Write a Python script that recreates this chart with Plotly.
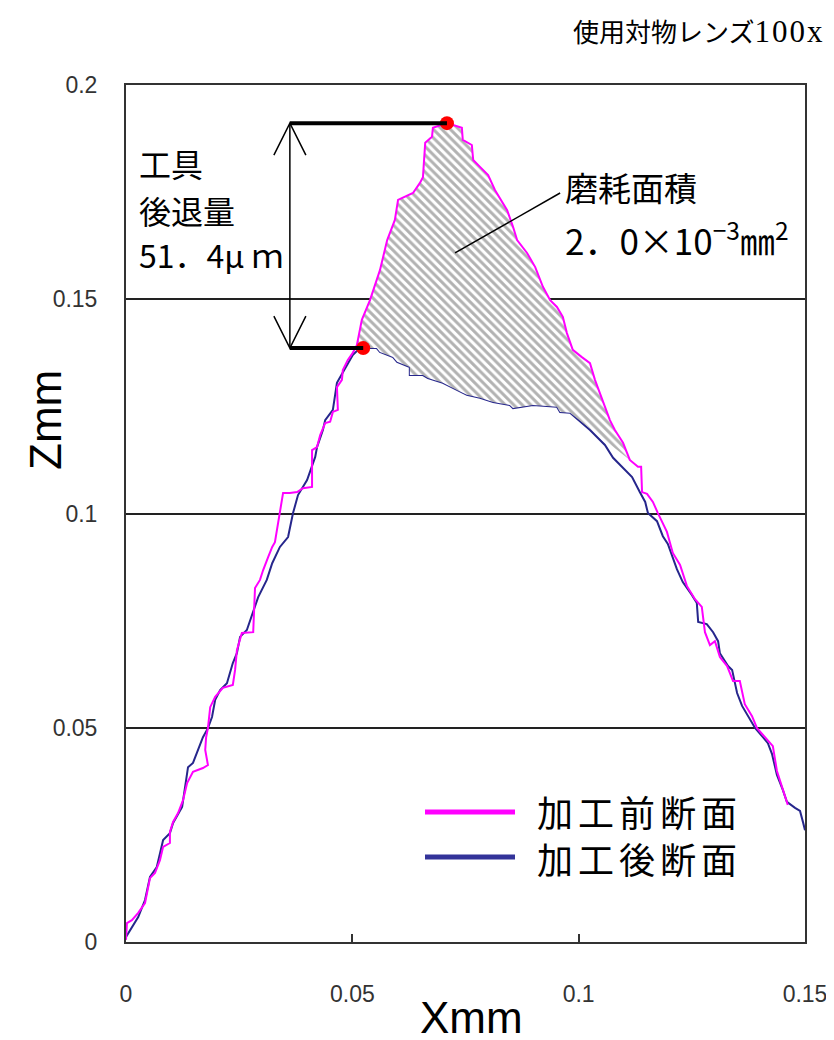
import numpy as np
import plotly.graph_objects as go

# ---------------- data (mm) ----------------
x_before = [0.0000, 0.0002, 0.0013, 0.0027, 0.0042, 0.0053, 0.0064, 0.0075, 0.0082, 0.0097,
            0.0097, 0.0104, 0.0115, 0.0126, 0.0135, 0.0148, 0.0170, 0.0181, 0.0175, 0.0177,
            0.0181, 0.0186, 0.0197, 0.0214, 0.0236, 0.0241, 0.0245, 0.0256, 0.0281, 0.0285,
            0.0296, 0.0303, 0.0314, 0.0323, 0.0329, 0.0340, 0.0345, 0.0347, 0.0362, 0.0378,
            0.0391, 0.0411, 0.0411, 0.0422, 0.0429, 0.0440, 0.0451, 0.0457, 0.0468, 0.0466,
            0.0477, 0.0479, 0.0490, 0.0501, 0.0510, 0.0521, 0.0539, 0.0561, 0.0577, 0.0594,
            0.0601, 0.0634, 0.0649, 0.0656, 0.0661, 0.0676, 0.0678, 0.0709, 0.0742, 0.0744,
            0.0764, 0.0767, 0.0782, 0.0800, 0.0815, 0.0842, 0.0855, 0.0864, 0.0886, 0.0904,
            0.0921, 0.0937, 0.0952, 0.0965, 0.0974, 0.0987, 0.1007, 0.1025, 0.1036, 0.1047,
            0.1058, 0.1069, 0.1080, 0.1098, 0.1113, 0.1131, 0.1138, 0.1140, 0.1151, 0.1164,
            0.1175, 0.1195, 0.1208, 0.1224, 0.1239, 0.1257, 0.1272, 0.1279, 0.1290, 0.1301,
            0.1312, 0.1328, 0.1341, 0.1356, 0.1367, 0.1383, 0.1394, 0.1416, 0.1429, 0.1438,
            0.1451, 0.1462]
z_before = [0.0005, 0.0044, 0.0051, 0.0068, 0.0091, 0.0149, 0.0161, 0.0191, 0.0222, 0.0231,
            0.0257, 0.0280, 0.0301, 0.0331, 0.0371, 0.0397, 0.0406, 0.0413, 0.0448, 0.0478,
            0.0499, 0.0548, 0.0572, 0.0593, 0.0600, 0.0635, 0.0681, 0.0721, 0.0723, 0.0826,
            0.0845, 0.0868, 0.0898, 0.0922, 0.0933, 0.1001, 0.1039, 0.1048, 0.1048, 0.1050,
            0.1059, 0.1062, 0.1148, 0.1155, 0.1183, 0.1211, 0.1214, 0.1237, 0.1242, 0.1295,
            0.1312, 0.1335, 0.1358, 0.1375, 0.1393, 0.1452, 0.1498, 0.1568, 0.1638, 0.1685,
            0.1732, 0.1748, 0.1771, 0.1785, 0.1865, 0.1879, 0.1900, 0.1911, 0.1900, 0.1872,
            0.1860, 0.1825, 0.1809, 0.1790, 0.1755, 0.1708, 0.1669, 0.1638, 0.1608, 0.1575,
            0.1529, 0.1498, 0.1482, 0.1459, 0.1421, 0.1382, 0.1365, 0.1351, 0.1312, 0.1281,
            0.1249, 0.1218, 0.1195, 0.1165, 0.1125, 0.1109, 0.1109, 0.1050, 0.1046, 0.1027,
            0.1001, 0.0957, 0.0908, 0.0880, 0.0831, 0.0800, 0.0782, 0.0723, 0.0693, 0.0702,
            0.0665, 0.0644, 0.0609, 0.0609, 0.0555, 0.0527, 0.0499, 0.0474, 0.0457, 0.0399,
            0.0359, 0.0320]

x_after = [0.0000, 0.0013, 0.0027, 0.0042, 0.0053, 0.0068, 0.0082, 0.0097, 0.0104, 0.0124,
           0.0137, 0.0148, 0.0170, 0.0181, 0.0190, 0.0197, 0.0208, 0.0223, 0.0230, 0.0236,
           0.0245, 0.0252, 0.0267, 0.0281, 0.0292, 0.0311, 0.0323, 0.0340, 0.0358, 0.0369,
           0.0380, 0.0400, 0.0406, 0.0418, 0.0422, 0.0435, 0.0440, 0.0457, 0.0466, 0.0479,
           0.0495, 0.0501, 0.0510, 0.0524, 0.0554, 0.0561, 0.0590, 0.0599, 0.0627, 0.0627,
           0.0656, 0.0667, 0.0700, 0.0731, 0.0753, 0.0782, 0.0811, 0.0848, 0.0855, 0.0899,
           0.0952, 0.0959, 0.0981, 0.1025, 0.1058, 0.1076, 0.1107, 0.1118, 0.1135, 0.1147,
           0.1153, 0.1173, 0.1186, 0.1197, 0.1217, 0.1230, 0.1250, 0.1261, 0.1264, 0.1283,
           0.1297, 0.1308, 0.1312, 0.1330, 0.1339, 0.1345, 0.1350, 0.1361, 0.1374, 0.1390,
           0.1407, 0.1418, 0.1427, 0.1438, 0.1451, 0.1460, 0.1478, 0.1489, 0.1496, 0.1500]
z_after = [0.0012, 0.0035, 0.0058, 0.0098, 0.0152, 0.0175, 0.0238, 0.0254, 0.0278, 0.0315,
           0.0408, 0.0418, 0.0478, 0.0499, 0.0525, 0.0565, 0.0588, 0.0604, 0.0630, 0.0651,
           0.0674, 0.0712, 0.0728, 0.0770, 0.0805, 0.0845, 0.0884, 0.0922, 0.0945, 0.1001,
           0.1043, 0.1078, 0.1095, 0.1132, 0.1155, 0.1195, 0.1218, 0.1242, 0.1305, 0.1328,
           0.1358, 0.1370, 0.1379, 0.1386, 0.1386, 0.1377, 0.1365, 0.1354, 0.1342, 0.1323,
           0.1323, 0.1316, 0.1305, 0.1288, 0.1277, 0.1270, 0.1260, 0.1253, 0.1246, 0.1253,
           0.1249, 0.1237, 0.1235, 0.1195, 0.1160, 0.1130, 0.1095, 0.1085, 0.1050, 0.1027,
           0.1001, 0.0982, 0.0947, 0.0929, 0.0870, 0.0840, 0.0810, 0.0791, 0.0747, 0.0742,
           0.0723, 0.0702, 0.0674, 0.0644, 0.0635, 0.0609, 0.0581, 0.0551, 0.0527, 0.0499,
           0.0478, 0.0464, 0.0439, 0.0390, 0.0355, 0.0327, 0.0313, 0.0306, 0.0278, 0.0261]

series_names = ["加工前断面", "加工後断面"]
x_tickvals = [0, 0.05, 0.1, 0.15]
x_ticktext = ["0", "0.05", "0.1", "0.15"]
z_tickvals = [0, 0.05, 0.1, 0.15, 0.2]
z_ticktext = ["0", "0.05", "0.1", "0.15", "0.2"]

# wear region bounds (mm)
hatch_x_start = 0.051
hatch_x_end_top = 0.1113
hatch_x_end_bottom = 0.0981

retreat_label = ["工具", "後退量", "51．4μ ｍ"]
wear_label = ["磨耗面積", "2．0×10<sup>−3</sup>㎜<sup>2</sup>"]
lens_label = ("使用対物レンズ<span style=\"font-family:'Liberation Serif';font-size:31px;"
              "letter-spacing:2px\">100x</span>")

MAGENTA = "#FF00FF"
NAVY = "#26268C"
CJK = "Noto Sans CJK JP"

xb, zb = np.array(x_before), np.array(z_before)
xa, za = np.array(x_after), np.array(z_after)

mt = (xb >= hatch_x_start) & (xb <= hatch_x_end_top)
ma = (xa >= hatch_x_start) & (xa <= hatch_x_end_bottom)
hx = np.concatenate([xb[mt], xa[ma][::-1]])
hz = np.concatenate([zb[mt], za[ma][::-1]])

ib = int(np.argmax(zb))
ia = int(np.argmax(za))
top_pt = (xb[ib], zb[ib])
bot_pt = (xa[ia], za[ia])
arrow_x = 0.0362

fig = go.Figure()
fig.add_trace(go.Scatter(x=x_after, y=z_after, mode="lines", name=series_names[1],
                         line=dict(color=NAVY, width=2), showlegend=False))
fig.add_trace(go.Scatter(x=hx, y=hz, mode="none", fill="toself", showlegend=False,
                         fillcolor="white",
                         fillpattern=dict(shape="\\", fgcolor="#666666", bgcolor="white",
                                          size=6, solidity=0.5)))
fig.add_trace(go.Scatter(x=x_before, y=z_before, mode="lines", name=series_names[0],
                         line=dict(color=MAGENTA, width=2), showlegend=False))

shapes = []
shapes.append(dict(type="line", xref="x", yref="y", x0=arrow_x, x1=top_pt[0], y0=top_pt[1], y1=top_pt[1],
                   line=dict(color="black", width=4)))
shapes.append(dict(type="line", xref="x", yref="y", x0=arrow_x, x1=bot_pt[0], y0=bot_pt[1], y1=bot_pt[1],
                   line=dict(color="black", width=4)))
shapes.append(dict(type="line", xref="x", yref="y", x0=arrow_x, x1=arrow_x, y0=bot_pt[1], y1=top_pt[1],
                   line=dict(color="black", width=1.5)))
shapes.append(dict(type="path", xref="x", yref="y", xsizemode="pixel", ysizemode="pixel",
                   xanchor=arrow_x, yanchor=top_pt[1], path="M-16,-32 L0,0 L16,-32",
                   line=dict(color="black", width=1.5)))
shapes.append(dict(type="path", xref="x", yref="y", xsizemode="pixel", ysizemode="pixel",
                   xanchor=arrow_x, yanchor=bot_pt[1], path="M-16,32 L0,0 L16,32",
                   line=dict(color="black", width=1.5)))
shapes.append(dict(type="line", xref="x", yref="y", x0=0.0727, y0=0.1608, x1=0.0959, y1=0.1748,
                   line=dict(color="black", width=1.5)))
shapes.append(dict(type="line", xref="paper", yref="paper", x0=(425 - 126) / 679, x1=(515 - 126) / 679,
                   y0=(942 - 812) / 857, y1=(942 - 812) / 857, line=dict(color=MAGENTA, width=5)))
shapes.append(dict(type="line", xref="paper", yref="paper", x0=(425 - 126) / 679, x1=(515 - 126) / 679,
                   y0=(942 - 857) / 857, y1=(942 - 857) / 857, line=dict(color="#333399", width=5)))

fig.add_trace(go.Scatter(x=[top_pt[0], bot_pt[0]], y=[top_pt[1], bot_pt[1]], mode="markers",
                         marker=dict(color="#FF0000", size=14), showlegend=False, cliponaxis=False))

ann = []
def txt(s, px, py, size, xanchor="left", font=CJK, color="black", **kw):
    ann.append(dict(text=s, xref="paper", yref="paper", x=(px - 126) / 679, y=(942 - py) / 857,
                    xanchor=xanchor, yanchor="middle", showarrow=False,
                    font=dict(family=font, size=size, color=color), **kw))

txt(retreat_label[0], 137, 163, 32)
txt(retreat_label[1], 137, 210, 32)
txt(retreat_label[2], 137, 254, 32)
txt(wear_label[0], 563, 187, 33)
txt(wear_label[1], 563, 238, 35)
legend_text = "<br>".join("<span style=\"letter-spacing:5px\">%s</span>" % s for s in series_names)
txt(legend_text, 535, 834, 36, align="left")
txt(lens_label, 826, 30, 26, xanchor="right")
txt("Xmm", 471, 1018, 44, xanchor="center", font="Liberation Sans")
ann.append(dict(text="Zmm", xref="paper", yref="paper", x=(45 - 126) / 679, y=(942 - 420) / 857,
                xanchor="center", yanchor="middle", showarrow=False, textangle=-90,
                font=dict(family="Liberation Sans", size=44, color="black")))

fig.update_layout(
    width=834, height=1040,
    margin=dict(l=118, r=37, t=77, b=106),
    paper_bgcolor="white", plot_bgcolor="white",
    shapes=shapes, annotations=ann, showlegend=False,
    xaxis=dict(range=[0, 0.15], tickvals=x_tickvals, ticktext=x_ticktext, showgrid=False,
               zeroline=False, showline=True, mirror=True, linecolor="#333333", linewidth=2,
               ticks="inside", ticklen=8, tickwidth=2, tickcolor="#333333",
               ticklabelstandoff=30, automargin=False,
               tickfont=dict(family="Liberation Sans", size=23, color="#333333")),
    yaxis=dict(range=[0, 0.2], tickvals=z_tickvals, ticktext=z_ticktext, showgrid=True,
               gridcolor="#222222", gridwidth=1.5, zeroline=False, showline=True, mirror=True,
               linecolor="#333333", linewidth=2, ticks="", ticklabelstandoff=22, automargin=False,
               tickfont=dict(family="Liberation Sans", size=23, color="#333333")),
)

fig.write_html("out.html")
